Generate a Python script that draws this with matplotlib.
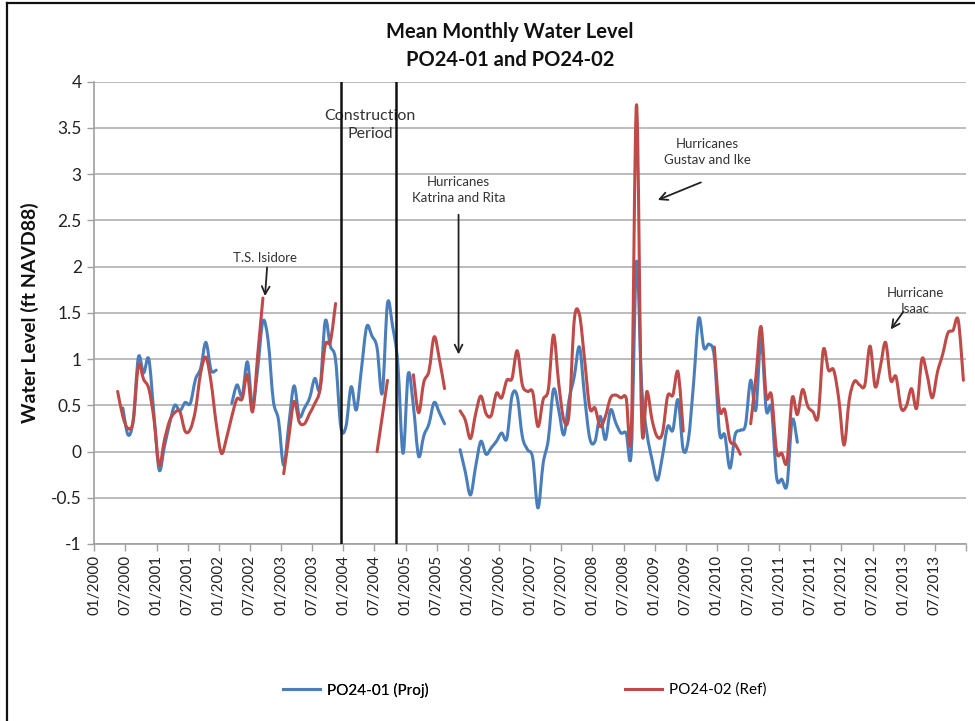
import numpy as np
import matplotlib
matplotlib.use("Agg")
import matplotlib.pyplot as plt
from matplotlib.lines import Line2D
from matplotlib.path import Path
from matplotlib.patches import PathPatch

plt.rcParams['font.family'] = ['Lato', 'DejaVu Sans']

# Monthly mean water level (ft NAVD88), one row per year, Jan..Dec; None = no record
proj_2000 = [None, None, None, None, None, 0.47, 0.18, 0.34, 1.02, 0.85, 1.00, 0.40]
proj_2001 = [-0.20, 0.05, 0.30, 0.50, 0.44, 0.53, 0.52, 0.78, 0.90, 1.18, 0.88, 0.88]
proj_2002 = [None, None, 0.52, 0.72, 0.60, 0.97, 0.50, 0.90, 1.41, 1.20, 0.55, 0.34]
proj_2003 = [-0.15, 0.30, 0.71, 0.38, 0.47, 0.58, 0.79, 0.68, 1.41, 1.14, 0.99, 0.27]
proj_2004 = [0.27, 0.70, 0.45, 0.90, 1.35, 1.25, 1.12, 0.63, 1.60, 1.35, 0.95, -0.02]
proj_2005 = [0.84, 0.49, -0.05, 0.17, 0.30, 0.53, 0.42, 0.30, None, None, 0.02, -0.22]
proj_2006 = [-0.47, -0.16, 0.11, -0.03, 0.04, 0.11, 0.20, 0.14, 0.60, 0.60, 0.16, 0.02]
proj_2007 = [-0.07, -0.61, -0.13, 0.13, 0.67, 0.45, 0.18, 0.56, 0.81, 1.13, 0.59, 0.14]
proj_2008 = [0.11, 0.38, 0.13, 0.45, 0.31, 0.20, 0.20, 0.00, 2.05, 0.70, 0.20, -0.09]
proj_2009 = [-0.31, -0.05, 0.27, 0.23, 0.56, 0.02, 0.13, 0.74, 1.44, 1.12, 1.16, 1.02]
proj_2010 = [0.20, 0.18, -0.18, 0.18, 0.23, 0.29, 0.77, 0.45, 1.22, 0.45, 0.47, -0.28]
proj_2011 = [-0.30, -0.36, 0.34, 0.10, None, None, None, None, None, None, None, None]
proj_2012 = [None] * 12
proj_2013 = [None] * 12

ref_2000 = [None, None, None, None, 0.65, 0.38, 0.25, 0.33, 0.93, 0.78, 0.68, 0.35]
ref_2001 = [-0.15, 0.12, 0.33, 0.42, 0.43, 0.22, 0.24, 0.45, 0.85, 1.02, 0.75, 0.30]
ref_2002 = [-0.02, 0.15, 0.38, 0.57, 0.57, 0.83, 0.43, 1.05, 1.66, None, None, None]
ref_2003 = [-0.24, 0.16, 0.54, 0.32, 0.30, 0.41, 0.52, 0.67, 1.15, 1.19, 1.60, None]
ref_2004 = [None, None, None, None, None, None, 0.00, 0.38, 0.77, None, None, None]
ref_2005 = [None, 0.83, 0.42, 0.75, 0.87, 1.24, 1.00, 0.68, None, None, 0.44, 0.34]
ref_2006 = [0.14, 0.41, 0.60, 0.41, 0.39, 0.63, 0.58, 0.77, 0.79, 1.09, 0.72, 0.65]
ref_2007 = [0.64, 0.27, 0.56, 0.67, 1.26, 0.74, 0.34, 0.41, 1.42, 1.48, 0.99, 0.47]
ref_2008 = [0.47, 0.27, 0.38, 0.58, 0.61, 0.58, 0.58, 0.23, 3.75, 0.31, 0.65, 0.34]
ref_2009 = [0.16, 0.20, 0.60, 0.61, 0.86, 0.22, None, None, None, None, None, 1.13]
ref_2010 = [0.45, 0.45, 0.12, 0.08, -0.03, None, 0.30, 0.80, 1.35, 0.60, 0.61, 0.00]
ref_2011 = [-0.02, -0.11, 0.58, 0.40, 0.67, 0.49, 0.43, 0.38, 1.10, 0.88, 0.88, 0.56]
ref_2012 = [0.07, 0.56, 0.76, 0.72, 0.72, 1.14, 0.70, 0.92, 1.18, 0.77, 0.81, 0.47]
ref_2013 = [0.49, 0.68, 0.47, 1.00, 0.83, 0.58, 0.86, 1.05, 1.28, 1.31, 1.42, 0.77]

proj_years = [proj_2000, proj_2001, proj_2002, proj_2003, proj_2004, proj_2005, proj_2006,
              proj_2007, proj_2008, proj_2009, proj_2010, proj_2011, proj_2012, proj_2013]
ref_years = [ref_2000, ref_2001, ref_2002, ref_2003, ref_2004, ref_2005, ref_2006,
             ref_2007, ref_2008, ref_2009, ref_2010, ref_2011, ref_2012, ref_2013]

tick_labels = ["01/2000", "07/2000", "01/2001", "07/2001", "01/2002", "07/2002",
               "01/2003", "07/2003", "01/2004", "07/2004", "01/2005", "07/2005",
               "01/2006", "07/2006", "01/2007", "07/2007", "01/2008", "07/2008",
               "01/2009", "07/2009", "01/2010", "07/2010", "01/2011", "07/2011",
               "01/2012", "07/2012", "01/2013", "07/2013", ""]

# construction period bounds, in months since Jan 2000
construction_bounds = [47.6, 58.05]

series_names = ["PO24-01 (Proj)", "PO24-02 (Ref)"]
series_colors = ["#4a7ebb", "#be4b48"]


def to_array(rows):
    flat = [v for row in rows for v in row]
    return np.array([np.nan if v is None else v for v in flat], dtype=float)


def smooth_path(x, y):
    """Cubic Bezier path through each unbroken run of points (spreadsheet-style smoothing)."""
    verts, codes = [], []
    ok = ~np.isnan(y)
    idx = np.flatnonzero(ok)
    if idx.size == 0:
        return None
    runs = np.split(idx, np.flatnonzero(np.diff(idx) > 1) + 1)
    for run in runs:
        px, py = x[run], y[run]
        n = len(run)
        verts.append((px[0], py[0]))
        codes.append(Path.MOVETO)
        for i in range(n - 1):
            p0 = (px[max(i - 1, 0)], py[max(i - 1, 0)])
            p1 = (px[i], py[i])
            p2 = (px[i + 1], py[i + 1])
            p3 = (px[min(i + 2, n - 1)], py[min(i + 2, n - 1)])
            c1 = (p1[0] + (p2[0] - p0[0]) / 6, p1[1] + (p2[1] - p0[1]) / 6)
            c2 = (p2[0] - (p3[0] - p1[0]) / 6, p2[1] - (p3[1] - p1[1]) / 6)
            verts += [c1, c2, p2]
            codes += [Path.CURVE4] * 3
    return Path(verts, codes)


proj = to_array(proj_years)
ref = to_array(ref_years)
months = np.arange(len(proj)) + 0.5  # mid-month position

W, H = 975, 721
fig = plt.figure(figsize=(W / 100, H / 100), dpi=100)
ax = fig.add_axes([94.3 / W, 1 - 544 / H, (966 - 94.3) / W, (544 - 81.6) / H])

ax.set_xlim(0, 168)
ax.set_ylim(-1, 4)

yt = np.arange(-1, 4.01, 0.5)
ax.set_yticks(yt)
ax.set_yticklabels([f"{v:g}" for v in yt], fontsize=12.5, color="#222222")
ax.yaxis.grid(True, color="#b0b0b0", lw=1.2)
ax.set_axisbelow(True)

ax.set_xticks(np.arange(0, 169, 6))
ax.set_xticklabels(tick_labels, rotation=90, fontsize=11, color="#222222")
ax.tick_params(axis="both", direction="out", length=5, width=1.0, color="#a0a0a0")
ax.tick_params(axis="y", pad=4)
ax.tick_params(axis="x", pad=3)

for side in ("top", "right"):
    ax.spines[side].set_visible(False)
for side in ("left", "bottom"):
    ax.spines[side].set_color("#a0a0a0")
    ax.spines[side].set_linewidth(1.2)

ax.set_ylabel("Water Level (ft NAVD88)", fontsize=14, fontweight="bold", color="#111111")
ax.yaxis.set_label_coords(-0.064, 0.5)

for xb in construction_bounds:
    ax.axvline(xb, color="#111111", lw=1.8, zorder=4)

handles = []
for values, color in zip([proj, ref], series_colors):
    path = smooth_path(months, values)
    ax.add_patch(PathPatch(path, facecolor="none", edgecolor=color, lw=2.2,
                           joinstyle="round", capstyle="round", zorder=3))
    handles.append(Line2D([], [], color=color, lw=2.2))

# annotations
txt_kw = dict(ha="center", va="center", color="#333333", linespacing=1.35)
ax.text(53.2, 3.53, "Construction\nPeriod", fontsize=11.5, **txt_kw)
ax.text(70.2, 2.83, "Hurricanes\nKatrina and Rita", fontsize=9.5, **txt_kw)
ax.text(118.1, 3.24, "Hurricanes\nGustav and Ike", fontsize=9.5, **txt_kw)
ax.text(32.9, 2.09, "T.S. Isidore", fontsize=9.5, **txt_kw)
ax.text(158.2, 1.63, "Hurricane\nIsaac", fontsize=9.5, **txt_kw)

arrow_kw = dict(arrowstyle="->", color="#222222", lw=1.3, shrinkA=0, shrinkB=0,
                mutation_scale=14)
ax.annotate("", xy=(32.9, 1.68), xytext=(33.3, 1.99), arrowprops=arrow_kw)
ax.annotate("", xy=(70.2, 1.05), xytext=(70.2, 2.56), arrowprops=arrow_kw)
ax.annotate("", xy=(108.6, 2.72), xytext=(116.9, 2.91), arrowprops=arrow_kw)
ax.annotate("", xy=(153.5, 1.32), xytext=(155.9, 1.51), arrowprops=arrow_kw)

# title
fig.text(510 / W, 1 - 32 / H, "Mean Monthly Water Level", ha="center", va="center",
         fontsize=14.5, fontweight="bold", color="#111111")
fig.text(510 / W, 1 - 60 / H, "PO24-01 and PO24-02", ha="center", va="center",
         fontsize=14.5, fontweight="bold", color="#111111")

# legend entries placed along the bottom
leg_kw = dict(frameon=False, loc="center left", fontsize=11, handlelength=2.4,
              handletextpad=0.45, borderaxespad=0, borderpad=0)
leg1 = fig.legend([handles[0]], [series_names[0]], bbox_to_anchor=(283 / W, 1 - 690 / H), **leg_kw)
fig.legend([handles[1]], [series_names[1]], bbox_to_anchor=(625 / W, 1 - 690 / H), **leg_kw)
fig.add_artist(leg1)

# outer chart frame (left and top edges)
fig.add_artist(Line2D([7 / W, 7 / W], [0, 1 - 3 / H], transform=fig.transFigure,
                      color="#111111", lw=1.6))
fig.add_artist(Line2D([7 / W, 1], [1 - 3 / H, 1 - 3 / H], transform=fig.transFigure,
                      color="#111111", lw=1.6))

fig.savefig("out.png", dpi=100, facecolor="white")
